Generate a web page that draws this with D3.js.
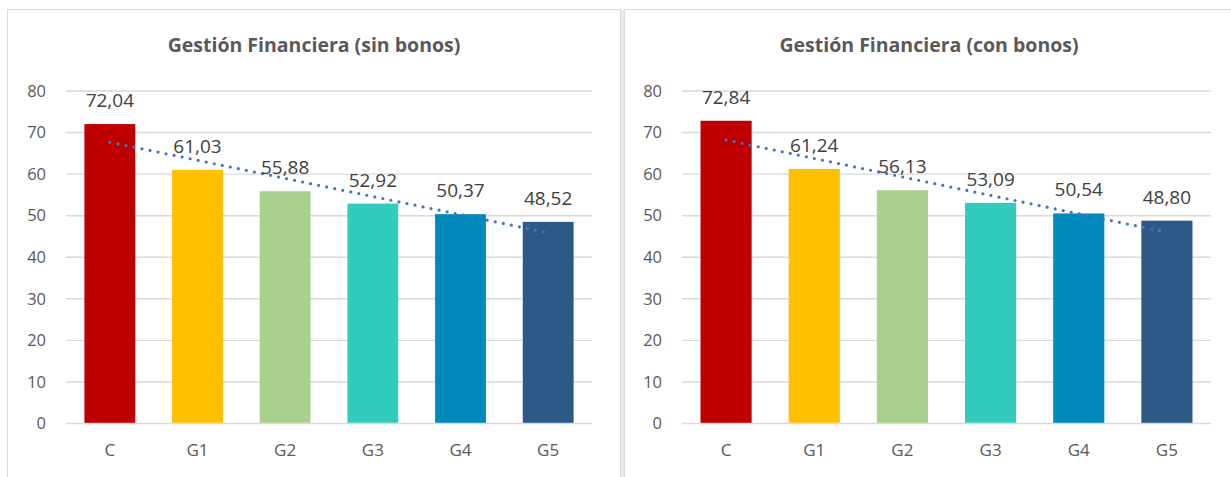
<!DOCTYPE html>
<html>
<head>
<meta charset="utf-8">
<script src="https://cdn.jsdelivr.net/npm/d3@7/dist/d3.min.js"></script>
<style>
  html, body { margin: 0; padding: 0; background: #ffffff; }
  svg { display: block; }
  text { font-family: "Open Sans", "Liberation Sans", sans-serif; }
</style>
</head>
<body>
<svg id="chart" width="1231" height="477"></svg>
<script>
// Categories shared by both panels
const categories = ["C", "G1", "G2", "G3", "G4", "G5"];
const barColors = ["#C00000", "#FFC000", "#A9D18E", "#33CCBC", "#008ABC", "#2C5985"];

// Scores per group
const valuesSinBonos = [72.04, 61.03, 55.88, 52.92, 50.37, 48.52];
const valuesConBonos = [72.84, 61.24, 56.13, 53.09, 50.54, 48.80];

const titles = ["Gestión Financiera (sin bonos)", "Gestión Financiera (con bonos)"];
const yTicks = [0, 10, 20, 30, 40, 50, 60, 70, 80];

const svg = d3.select("#chart");
const fmt = v => v.toFixed(2).replace(".", ",");

// Panel frames
svg.append("rect").attr("x", 7.5).attr("y", 9.5).attr("width", 613).attr("height", 500)
  .attr("fill", "none").attr("stroke", "#D9D9D9").attr("stroke-width", 1);
svg.append("rect").attr("x", 621).attr("y", 10).attr("width", 3).attr("height", 470)
  .attr("fill", "#EAEAEA");
svg.append("rect").attr("x", 624.5).attr("y", 9.5).attr("width", 620).attr("height", 500)
  .attr("fill", "none").attr("stroke", "#D9D9D9").attr("stroke-width", 1);

function drawPanel(values, title, left, right, titleX) {
  const g = svg.append("g");
  const x = d3.scaleBand().domain(categories).range([left, right]).paddingInner(0.42).paddingOuter(0.21);
  const y = d3.scaleLinear().domain([0, 80]).range([423.5, 91]);

  // Title
  g.append("text").attr("x", titleX).attr("y", 52).attr("text-anchor", "middle")
    .attr("font-size", 19.5).attr("font-weight", 700).attr("fill", "#595959").text(title);

  // Horizontal gridlines
  g.append("g").selectAll("line").data(yTicks).join("line")
    .attr("x1", left).attr("x2", right)
    .attr("y1", d => y(d)).attr("y2", d => y(d))
    .attr("stroke", "#D9D9D9").attr("stroke-width", 1.4);

  // Y axis labels
  const yAxis = d3.axisLeft(y).tickValues(yTicks).tickSize(0).tickPadding(20);
  const ya = g.append("g").attr("transform", `translate(${left},0)`).call(yAxis);
  ya.select(".domain").remove();
  ya.selectAll("text").attr("font-size", 16.5).attr("fill", "#595959")
    .attr("font-family", "'Open Sans', sans-serif");

  // Bars
  g.append("g").selectAll("rect").data(values).join("rect")
    .attr("x", (d, i) => x(categories[i]))
    .attr("width", x.bandwidth())
    .attr("y", d => y(d))
    .attr("height", d => y(0) - y(d) - 0.7)
    .attr("fill", (d, i) => barColors[i]);

  // X axis labels
  const xAxis = d3.axisBottom(x).tickSize(0).tickPadding(20);
  const xa = g.append("g").attr("transform", "translate(0,423.5)").call(xAxis);
  xa.select(".domain").remove();
  xa.selectAll("text").attr("font-size", 17).attr("fill", "#595959")
    .attr("font-family", "'Open Sans', sans-serif");

  // Linear trend line (least squares over category index)
  const n = values.length;
  const idx = d3.range(1, n + 1);
  const mx = d3.mean(idx), my = d3.mean(values);
  const slope = d3.sum(idx, (t, i) => (t - mx) * (values[i] - my)) / d3.sum(idx, t => (t - mx) ** 2);
  const icpt = my - slope * mx;
  const trend = idx.map(t => [x(categories[t - 1]) + x.bandwidth() / 2, y(icpt + slope * t)]);
  g.append("path").attr("d", d3.line()(trend))
    .attr("fill", "none").attr("stroke", "#4472C4").attr("stroke-width", 3.2)
    .attr("stroke-linecap", "round").attr("stroke-dasharray", "0 8.2");

  // Value labels
  g.append("g").selectAll("text").data(values).join("text")
    .attr("x", (d, i) => x(categories[i]) + x.bandwidth() / 2)
    .attr("y", d => y(d) - 17)
    .attr("text-anchor", "middle").attr("font-size", 19).attr("fill", "#404040")
    .text(d => fmt(d));
}

drawPanel(valuesSinBonos, titles[0], 66, 592, 314);
drawPanel(valuesConBonos, titles[1], 682, 1211, 929);
</script>
</body>
</html>
